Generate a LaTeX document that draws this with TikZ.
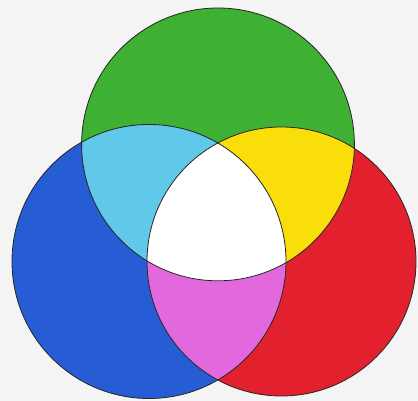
\documentclass[tikz,border=0pt]{standalone}
\begin{document}
\begin{tikzpicture}[x=1pt,y=1pt,
  outline/.style={draw=black!85,line width=0.8pt}]
\definecolor{bg}{RGB}{244,244,244}
\definecolor{vgreen}{RGB}{62,176,52}
\definecolor{vblue}{RGB}{38,92,212}
\definecolor{vred}{RGB}{226,32,46}
\definecolor{vcyan}{RGB}{96,200,232}
\definecolor{vyellow}{RGB}{250,222,10}
\definecolor{vmagenta}{RGB}{226,104,222}
\def\RG{136.4}
\def\RB{137}
\def\RR{134.5}
\coordinate (G) at (218,256.6);
\coordinate (B) at (149,139.5);
\coordinate (Rd) at (281.5,139.5);
\fill[bg] (0,0) rectangle (418,401);
\useasboundingbox (0,0) rectangle (418,401);
\fill[vgreen] (G) circle (\RG);
\fill[vblue] (B) circle (\RB);
\fill[vred] (Rd) circle (\RR);
\begin{scope}
  \clip (G) circle (\RG);
  \fill[vcyan] (B) circle (\RB);
  \fill[vyellow] (Rd) circle (\RR);
\end{scope}
\begin{scope}
  \clip (B) circle (\RB);
  \fill[vmagenta] (Rd) circle (\RR);
  \clip (Rd) circle (\RR);
  \fill[white] (G) circle (\RG);
\end{scope}
\draw[outline] (G) circle (\RG);
\draw[outline] (B) circle (\RB);
\draw[outline] (Rd) circle (\RR);
\end{tikzpicture}
\end{document}
